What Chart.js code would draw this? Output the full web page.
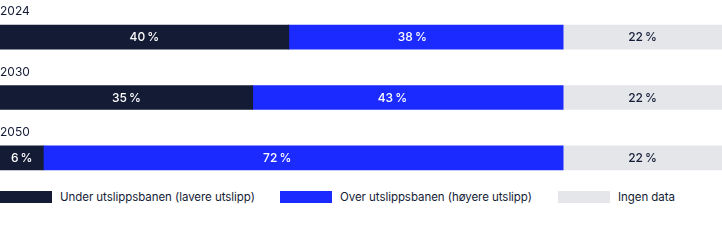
<!DOCTYPE html>
<html>
<head>
<meta charset="utf-8">
<script src="https://cdn.jsdelivr.net/npm/chart.js@4"></script>
<style>
  html, body { margin: 0; padding: 0; background: #fff; }
  #wrap { position: relative; width: 722px; height: 240px; font-family: Inter, "Liberation Sans", sans-serif; }
  #chartBox { position: absolute; left: 0; top: 0; width: 722px; height: 188px; }
  #legend { position: absolute; left: 0; top: 190px; width: 722px; height: 14px; }
  .li { position: absolute; top: 0; height: 14px; display: flex; align-items: center; font-size: 11.5px; color: #141c36; white-space: nowrap; letter-spacing: -0.05px; }
  .sw { width: 52px; height: 12px; margin-right: 8px; }
</style>
</head>
<body>
<div id="wrap">
  <div id="chartBox"><canvas id="c"></canvas></div>
  <div id="legend"></div>
</div>
<script>
const categories = ["2024", "2030", "2050"];
const seriesNames = ["Under utslippsbanen (lavere utslipp)", "Over utslippsbanen (høyere utslipp)", "Ingen data"];
const underValues = [40, 35, 6];
const overValues = [38, 43, 72];
const noDataValues = [22, 22, 22];
const seriesColors = ["#131b35", "#1b2aff", "#e5e6ea"];
const labelColors = ["#ffffff", "#ffffff", "#141c36"];
const labelAnchor = [0.5, 0.45, 0.5];
const legendLefts = [0, 280, 558];

const FONT = 'Inter, "Liberation Sans", sans-serif';

const yearLabels = {
  id: 'yearLabels',
  afterDatasetsDraw(chart) {
    const ctx = chart.ctx;
    const meta = chart.getDatasetMeta(0);
    ctx.save();
    ctx.font = '12px ' + FONT;
    ctx.fillStyle = '#141c36';
    ctx.textAlign = 'left';
    ctx.textBaseline = 'alphabetic';
    meta.data.forEach((bar, i) => {
      const top = bar.y - bar.height / 2;
      ctx.fillText(chart.data.labels[i], 0, top - 10);
    });
    ctx.restore();
  }
};

const valueLabels = {
  id: 'valueLabels',
  afterDatasetsDraw(chart) {
    const ctx = chart.ctx;
    ctx.save();
    ctx.font = '500 12px ' + FONT;
    ctx.textAlign = 'center';
    ctx.textBaseline = 'middle';
    chart.data.datasets.forEach((ds, di) => {
      const meta = chart.getDatasetMeta(di);
      meta.data.forEach((bar, i) => {
        const cx = bar.base + (bar.x - bar.base) * labelAnchor[di];
        ctx.fillStyle = labelColors[di];
        ctx.fillText(ds.data[i] + '\u2009%', cx, bar.y + 0.5);
      });
    });
    ctx.restore();
  }
};

new Chart(document.getElementById('c'), {
  type: 'bar',
  data: {
    labels: categories,
    datasets: [
      { label: seriesNames[0], data: underValues, backgroundColor: seriesColors[0] },
      { label: seriesNames[1], data: overValues, backgroundColor: seriesColors[1] },
      { label: seriesNames[2], data: noDataValues, backgroundColor: seriesColors[2] }
    ]
  },
  options: {
    indexAxis: 'y',
    responsive: true,
    maintainAspectRatio: false,
    animation: false,
    layout: { padding: { top: 7, bottom: 0, left: 0, right: 0 } },
    datasets: { bar: { barThickness: 24, borderWidth: 0 } },
    scales: {
      x: { stacked: true, min: 0, max: 100, display: false },
      y: { stacked: true, display: false }
    },
    plugins: { legend: { display: false }, tooltip: { enabled: false } }
  },
  plugins: [yearLabels, valueLabels]
});

const legend = document.getElementById('legend');
seriesNames.forEach((name, i) => {
  const item = document.createElement('div');
  item.className = 'li';
  item.style.left = legendLefts[i] + 'px';
  const sw = document.createElement('span');
  sw.className = 'sw';
  sw.style.background = seriesColors[i];
  const tx = document.createElement('span');
  tx.textContent = name;
  item.appendChild(sw);
  item.appendChild(tx);
  legend.appendChild(item);
});
</script>
</body>
</html>
